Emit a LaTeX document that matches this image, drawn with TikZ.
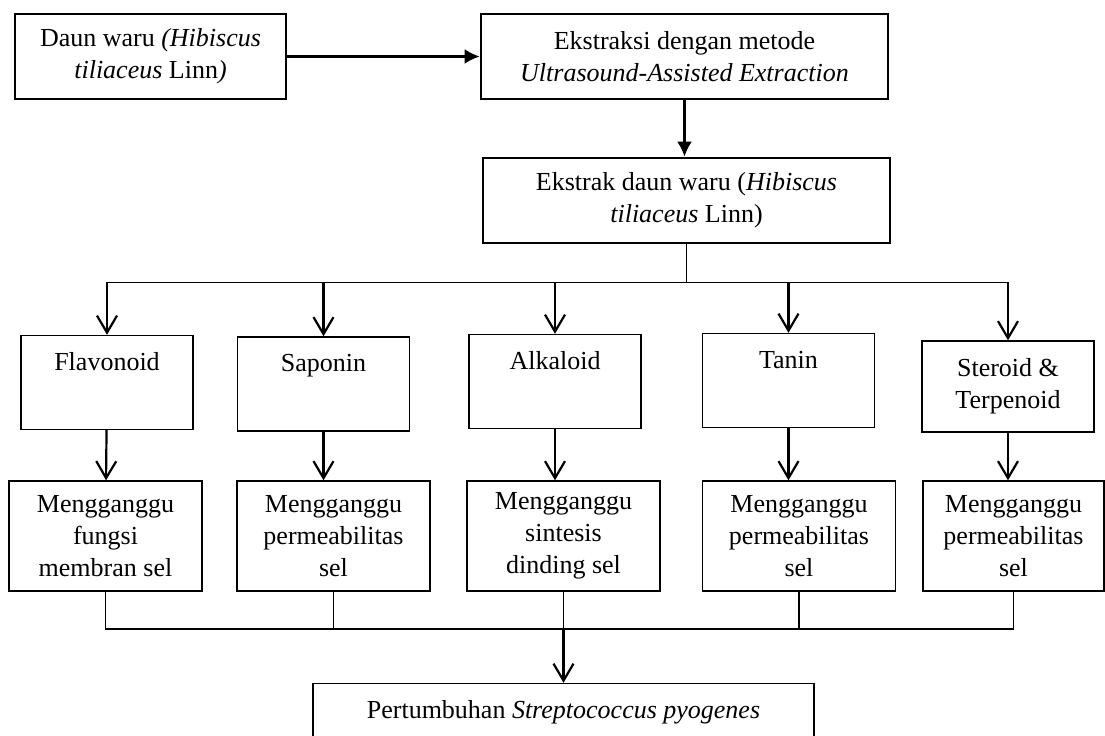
\documentclass[tikz,border=0pt]{standalone}
\usepackage{fontspec}
\setmainfont{Liberation Serif}
\usetikzlibrary{arrows.meta,positioning}

\begin{document}
\begin{tikzpicture}[x=0.5pt,y=-0.5pt,
		plainbox/.style={draw,line width=0.7pt,align=center,inner sep=0pt,font=\fontsize{13}{16}\selectfont},
		bigbox/.style={plainbox,line width=1.4pt,minimum width=203.5pt,minimum height=42.5pt},
		cmpd/.style={plainbox,minimum width=86pt,minimum height=47pt},
		effect/.style={plainbox,minimum width=96.5pt,minimum height=55pt},
		filltip/.style={-{Latex[length=7.5pt,width=7.5pt]},line width=1.1pt},
		barbtip/.style={-{Straight Barb[length=8.5pt,width=10pt]},line width=1.1pt},
		busline/.style={line width=0.6pt}]
		\useasboundingbox (0,0) rectangle (1105,735);
		% top row
		\node[plainbox,minimum width=135.5pt,minimum height=42.5pt] (daun) at (150.5,56.5)
			{Daun waru \textit{(Hibiscus}\\\textit{tiliaceus} Linn\textit{)}};
		\node[bigbox] (uae) at (684.5,56.5)
			{Ekstraksi dengan metode\\\textit{Ultrasound-Assisted Extraction}};
		\node[bigbox] (ekstrak) at (686.5,200.5)
			{Ekstrak daun waru (\textit{Hibiscus}\\\textit{tiliaceus} Linn)};
		\draw[filltip] (daun) -- (uae);
		\draw[filltip] (uae) -- (ekstrak.north -| uae);
		% compounds
		\node[cmpd] (flav) at (107,382.5) {Flavonoid\\\strut};
		\node[cmpd] (sap) at (323.5,384) {Saponin\\\strut};
		\node[cmpd] (alk) at (555,381.5) {Alkaloid\\\strut};
		\node[cmpd] (tan) at (788.5,380.5) {Tanin\\\strut};
		\node[cmpd,minimum height=45.5pt] (ster) at (1008,386.5) {Steroid \&\\Terpenoid};
		\draw[busline] (ekstrak.south) -- ++(0,38) coordinate (split);
		\draw[busline] (flav.north |- split) -- (ster.north |- split);
		\foreach \c in {flav,sap,alk,tan,ster}
			\draw[barbtip] (\c.north |- split) -- (\c.north);
		% effects
		\node[effect] (m1) at (105.5,536) {Mengganggu\\fungsi\\membran sel};
		\node[effect] (m2) at (333.5,536) {Mengganggu\\permeabilitas\\sel};
		\node[effect] (m3) at (563.5,536) {Mengganggu\\sintesis\\dinding sel};
		\node[effect] (m4) at (799,536) {Mengganggu\\permeabilitas\\sel};
		\node[effect,minimum width=90.5pt] (m5) at (1013.5,536) {Mengganggu\\permeabilitas\\sel};
		\draw[barbtip] (flav) -- (m1);
		\draw[barbtip] (sap) -- (sap.south |- m2.north);
		\draw[barbtip] (alk) -- (alk.south |- m3.north);
		\draw[barbtip] (tan) -- (tan.south |- m4.north);
		\draw[barbtip] (ster) -- (ster.south |- m5.north);
		% result
		\node[cmpd,minimum width=250.5pt] (growth) at (563.5,730.5)
			{Pertumbuhan \textit{Streptococcus pyogenes}\\\strut};
		\coordinate (merge) at (563.5,629);
		\draw[busline] (m1) |- (merge) -| (m5);
		\foreach \c in {m2,m3,m4}
			\draw[busline] (\c) -- (\c.south |- merge);
		\draw[barbtip] (merge) -- (growth);
	\end{tikzpicture}
\end{document}
